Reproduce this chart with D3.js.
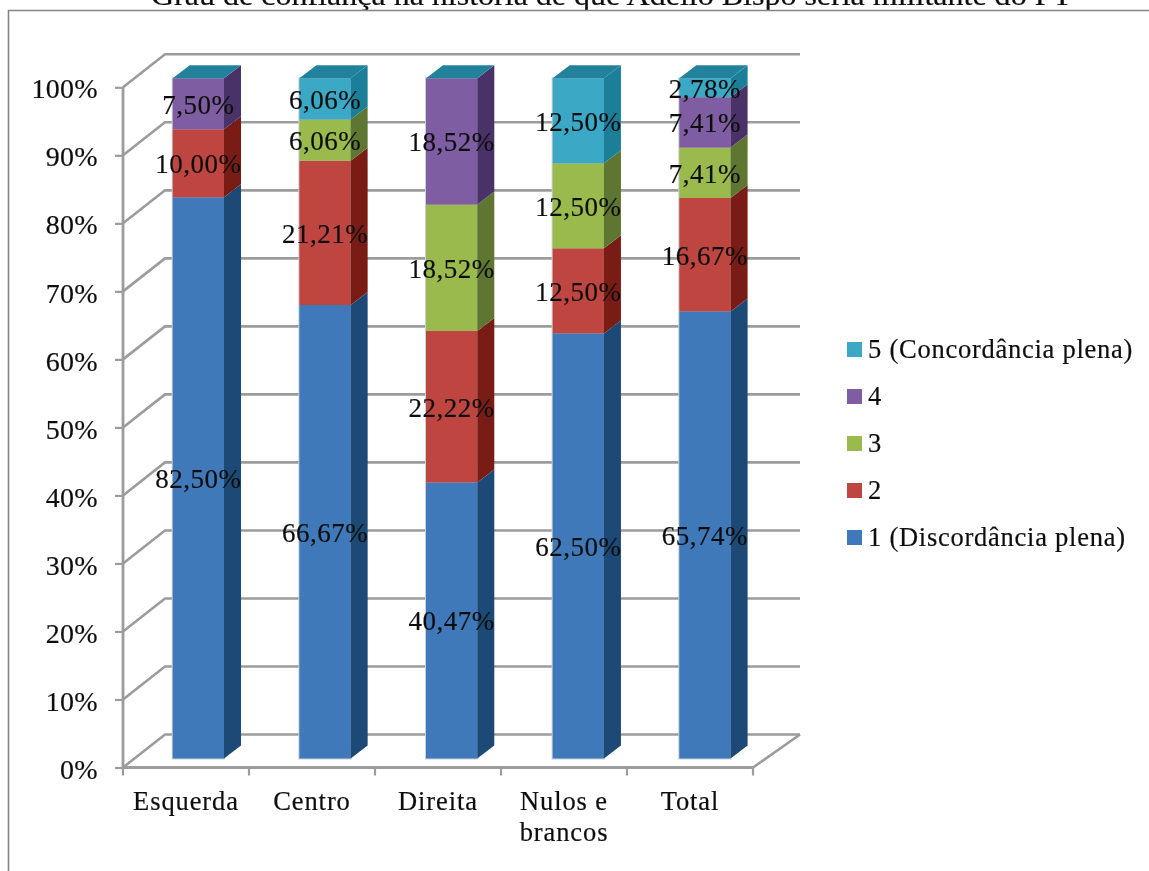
<!DOCTYPE html>
<html><head><meta charset="utf-8">
<script src="https://cdn.jsdelivr.net/npm/d3@7/dist/d3.min.js"></script>
<style>html,body{margin:0;padding:0;background:#fff;overflow:hidden}svg{display:block}
text{font-family:"Liberation Serif",serif;fill:#111;stroke:#111;stroke-width:0.2}</style></head><body>
<svg id="c" width="1149" height="871"></svg>
<script>
const titleText = "Grau de confiança na história de que Adélio Bispo seria militante do PT";
const categories = ["Esquerda","Centro","Direita","Nulos e|brancos","Total"];
const seriesNames = ["1 (Discordância plena)","2","3","4","5 (Concordância plena)"];
const s1 = [82.50,66.67,40.47,62.50,65.74];
const s2 = [10.00,21.21,22.22,12.50,16.67];
const s3 = [0,6.06,18.52,12.50,7.41];
const s4 = [7.50,0,18.52,0,7.41];
const s5 = [0,6.06,0,12.50,2.78];
const seriesValues = [s1,s2,s3,s4,s5];
const faceColors = ["#4179b9","#bf4540","#9aba4d","#7e5da3","#3aa8c6"];
const sideColors = ["#1c4a75","#7a1f18","#5f7633","#4a3268","#1f7f9a"];
const topColor = "#23829c";
const yTicks = d3.range(0,101,10);

const svg = d3.select("#c");
const defs = svg.append("defs");
defs.append("filter").attr("id","soft").attr("x","-5%").attr("y","-5%").attr("width","110%").attr("height","110%")
  .append("feGaussianBlur").attr("stdDeviation",0.55);
const root = svg.append("g").attr("filter","url(#soft)");

const gridCol = "#9c9c9c";
const depth = {x:42,y:-33};
const barOff = {x:0,y:-9};
const barDepth = {x:17,y:-13};
const y = d3.scaleLinear().domain([0,100]).range([767.5,87.3]);
const x = d3.scaleBand().domain(categories).range([123,753]).paddingInner(0);
const xBar = d3.scaleBand().domain(categories).range([172.7,172.7+5*126.65]).paddingInner(0);
const barW = 51.3;
const barLeft = c => xBar(c);
const pct = d3.format(".2f");
const fmt = v => pct(v).replace(".",",")+"%";

// title & frame
root.append("text").attr("x",151).attr("y",4.5).attr("font-size",29.5)
  .attr("textLength",921).attr("lengthAdjust","spacingAndGlyphs").text(titleText);
root.append("path").attr("d","M8.5,871V10.5H1149").attr("fill","none").attr("stroke","#858585").attr("stroke-width",1.6);

// walls
const grid = root.append("g").attr("fill","none").attr("stroke",gridCol).attr("stroke-width",2.6);
grid.selectAll("path.g").data(yTicks).join("path").attr("class","g")
  .attr("d",t=>`M123,${y(t)}L${123+depth.x},${y(t)+depth.y}H800`);
grid.append("path").attr("d",`M753,${y(0)}L800,${y(0)+depth.y}`);

// axes
const axY = root.append("g").attr("transform","translate(123,0)")
  .call(d3.axisLeft(y).tickValues(yTicks).tickSize(8).tickPadding(17).tickFormat(d=>d+"%"));
axY.selectAll("line").attr("stroke",gridCol).attr("stroke-width",2.2);
axY.select(".domain").attr("stroke",gridCol).attr("stroke-width",2.8).attr("d",`M0,${y(100)}V${y(0)}`);
axY.selectAll("text").attr("font-size",28).attr("font-family",null).attr("letter-spacing",0.3).attr("dy","0.38em");
axY.attr("font-family",null);
root.append("line").attr("x1",123).attr("x2",753).attr("y1",y(0)).attr("y2",y(0)).attr("stroke",gridCol).attr("stroke-width",2.8);
root.selectAll("line.xt").data(d3.range(0,6)).join("line").attr("class","xt")
  .attr("x1",i=>123+i*x.step()).attr("x2",i=>123+i*x.step()).attr("y1",y(0)).attr("y2",y(0)+8)
  .attr("stroke",gridCol).attr("stroke-width",2.2);
categories.forEach(c=>{
  const lines=c.split("|");
  const t=root.append("text").attr("text-anchor","middle").attr("font-size",26.5).attr("letter-spacing",0.9);
  lines.forEach((l,i)=>t.append("tspan").attr("x",x(c)+x.bandwidth()/2).attr("y",810+i*30.5).text(l));
});

// bars
const stack = categories.map((c,ci)=>{
  let acc=0; const total=d3.sum(seriesValues,s=>s[ci]);
  return seriesValues.map((s,si)=>{const y0=acc/total*100; acc+=s[ci]; return {c,si,v:s[ci],y0,y1:acc/total*100};});
});
const py = v => y(v)+barOff.y;
const bars = root.append("g");
stack.forEach(col=>{
  const g=bars.append("g");
  const L=barLeft(col[0].c), R=L+barW;
  g.append("rect").attr("x",L-1).attr("y",py(100)-1).attr("width",barW+2).attr("height",py(0)-py(100)+2).attr("fill","#c9cfd6");
  col.filter(d=>d.v>0).forEach(d=>{
    g.append("rect").attr("x",L).attr("y",py(d.y1)).attr("width",barW).attr("height",py(d.y0)-py(d.y1)).attr("fill",faceColors[d.si]);
    g.append("path").attr("d",`M${R},${py(d.y0)}L${R+barDepth.x},${py(d.y0)+barDepth.y}V${py(d.y1)+barDepth.y}L${R},${py(d.y1)}Z`).attr("fill",sideColors[d.si]);
  });
  g.append("path").attr("d",`M${L},${py(100)}L${L+barDepth.x},${py(100)+barDepth.y}H${R+barDepth.x}L${R},${py(100)}Z`).attr("fill",topColor);
});
// labels
const labels = root.append("g");
stack.forEach(col=>col.filter(d=>d.v>0).forEach(d=>{
  labels.append("text").attr("x",barLeft(d.c)+barW/2).attr("y",py((d.y0+d.y1)/2)+10)
    .attr("text-anchor","middle").attr("font-size",27).attr("letter-spacing",0.5).text(fmt(d.v));
}));

// legend
const legY = d3.scalePoint().domain(d3.range(4,-1,-1)).range([349.5,537.5]);
d3.range(4,-1,-1).forEach(i=>{
  root.append("rect").attr("x",847).attr("y",legY(i)-7.5).attr("width",15).attr("height",15).attr("fill",faceColors[i]);
  root.append("text").attr("x",868).attr("y",legY(i)+8).attr("font-size",26.5).attr("letter-spacing",0.75).text(seriesNames[i]);
});
</script></body></html>
